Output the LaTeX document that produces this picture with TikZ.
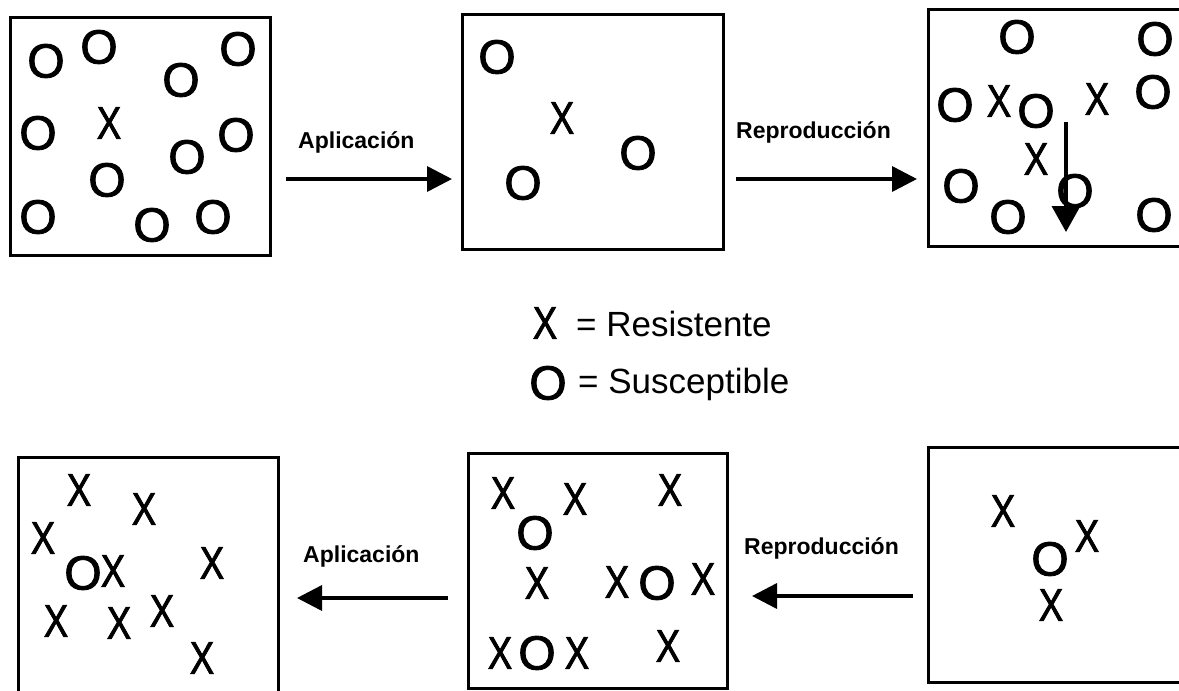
\documentclass[tikz,border=0pt]{standalone}
\usepackage{fontspec}
\setmainfont{Liberation Sans}
\newfontfamily\markfont[FakeBold=1.8]{Liberation Sans}
\usetikzlibrary{arrows.meta}

\tikzset{
  panel/.style={draw=black, line width=3pt, rectangle, inner sep=0pt},
  osym/.style={inner sep=0pt, outer sep=0pt, font=\markfont\fontsize{48}{52}\selectfont},
  xsym/.style={inner sep=0pt, outer sep=0pt, font=\markfont\fontsize{46}{50}\selectfont},
  legendtext/.style={inner sep=0pt, anchor=base west, font=\fontsize{35}{40}\selectfont},
  steplabel/.style={inner sep=0pt, anchor=base west, font=\fontsize{23}{27}\selectfont\bfseries},
  flow/.style={line width=3.5pt, -{Triangle[length=25pt, width=25pt]}},
}
% resistant and susceptible markers
\newcommand{\resmark}[2]{\node[xsym] (#1) at (#2) {\scalebox{0.8}[1]{X}};}
\newcommand{\susmark}[2]{\node[osym] (#1) at (#2) {O};}

\begin{document}
\begin{tikzpicture}[x=1pt, y=-1pt]
\useasboundingbox (0,0) rectangle (1179,691);

% ---- panels ----
\draw[panel] (10,17) rectangle (270,255);
\draw[panel] (462,14) rectangle (723,249);
\draw[panel] (928,9) rectangle (1195,246);
\draw[panel] (18,457) rectangle (278,705);
\draw[panel] (468,453) rectangle (727,688);
\draw[panel] (928,447) rectangle (1195,682);

% ---- panel 1: initial population ----
\susmark{a1}{46,61}
\susmark{a2}{99,47}
\susmark{a3}{181,80}
\susmark{a4}{238,49}
\susmark{a5}{38,133}
\resmark{a6}{109,123}
\susmark{a7}{236,135}
\susmark{a8}{187,157}
\susmark{a9}{107,180}
\susmark{a10}{38,217}
\susmark{a11}{152,225}
\susmark{a12}{213,217}

% ---- panel 2: after application ----
\susmark{b1}{497,57}
\resmark{b2}{562,118}
\susmark{b3}{638,153}
\susmark{b4}{523,183}

% ---- panel 3: after reproduction ----
\susmark{c1}{1017,37}
\susmark{c2}{1155,39}
\susmark{c3}{955,105}
\resmark{c4}{999,101}
\susmark{c5}{1036,111}
\resmark{c6}{1097,99}
\susmark{c7}{1153,92}
\resmark{c8}{1036,159}
\susmark{c9}{961,186}
\susmark{c10}{1075,191}
\susmark{c11}{1008,217}
\susmark{c12}{1154,215}
\coordinate (dtop) at (1066,122);
\coordinate (dbot) at (1066,232);
\draw[line width=3.5pt, -{Triangle[length=26pt, width=28pt]}] (dtop) -- (dbot);

% ---- panel 6: selected population ----
\resmark{f1}{1003,511}
\resmark{f2}{1087,536}
\susmark{f3}{1050,559}
\resmark{f4}{1051,605}

% ---- panel 5: after reproduction ----
\resmark{e1}{503,493}
\resmark{e2}{575,499}
\resmark{e3}{670,490}
\susmark{e4}{535,533}
\resmark{e5}{537,583}
\resmark{e6}{617,582}
\susmark{e7}{657,583}
\resmark{e8}{703,579}
\resmark{e9}{500,653}
\susmark{e10}{537,653}
\resmark{e11}{577,653}
\resmark{e12}{668,646}

% ---- panel 4: after second application ----
\resmark{d1}{79,490}
\resmark{d2}{144,509}
\resmark{d3}{43,538}
\susmark{d4}{83,573}
\resmark{d5}{113,571}
\resmark{d6}{212,563}
\resmark{d7}{56,621}
\resmark{d8}{119,623}
\resmark{d9}{162,611}
\resmark{d10}{202,658}

% ---- process arrows ----
\coordinate (t1s) at (286,179);
\coordinate (t1e) at (452,179);
\coordinate (t2s) at (736,179);
\coordinate (t2e) at (917,179);
\coordinate (u1s) at (913,596);
\coordinate (u1e) at (752,596);
\coordinate (u2s) at (448,598);
\coordinate (u2e) at (297,598);
\draw[flow] (t1s) -- (t1e);
\draw[flow] (t2s) -- (t2e);
\draw[flow] (u1s) -- (u1e);
\draw[flow] (u2s) -- (u2e);

\node[steplabel] (l1) at (298,148) {Aplicación};
\node[steplabel] (l2) at (736,138) {Reproducción};
\node[steplabel] (l3) at (744,554) {Reproducción};
\node[steplabel] (l4) at (303,562) {Aplicación};

% ---- legend ----
\resmark{kx}{545,323}
\node[legendtext] (kxt) at (576,336) {= Resistente};
\susmark{ko}{548,383}
\node[legendtext] (kot) at (578,393) {= Susceptible};
\end{tikzpicture}
\end{document}
